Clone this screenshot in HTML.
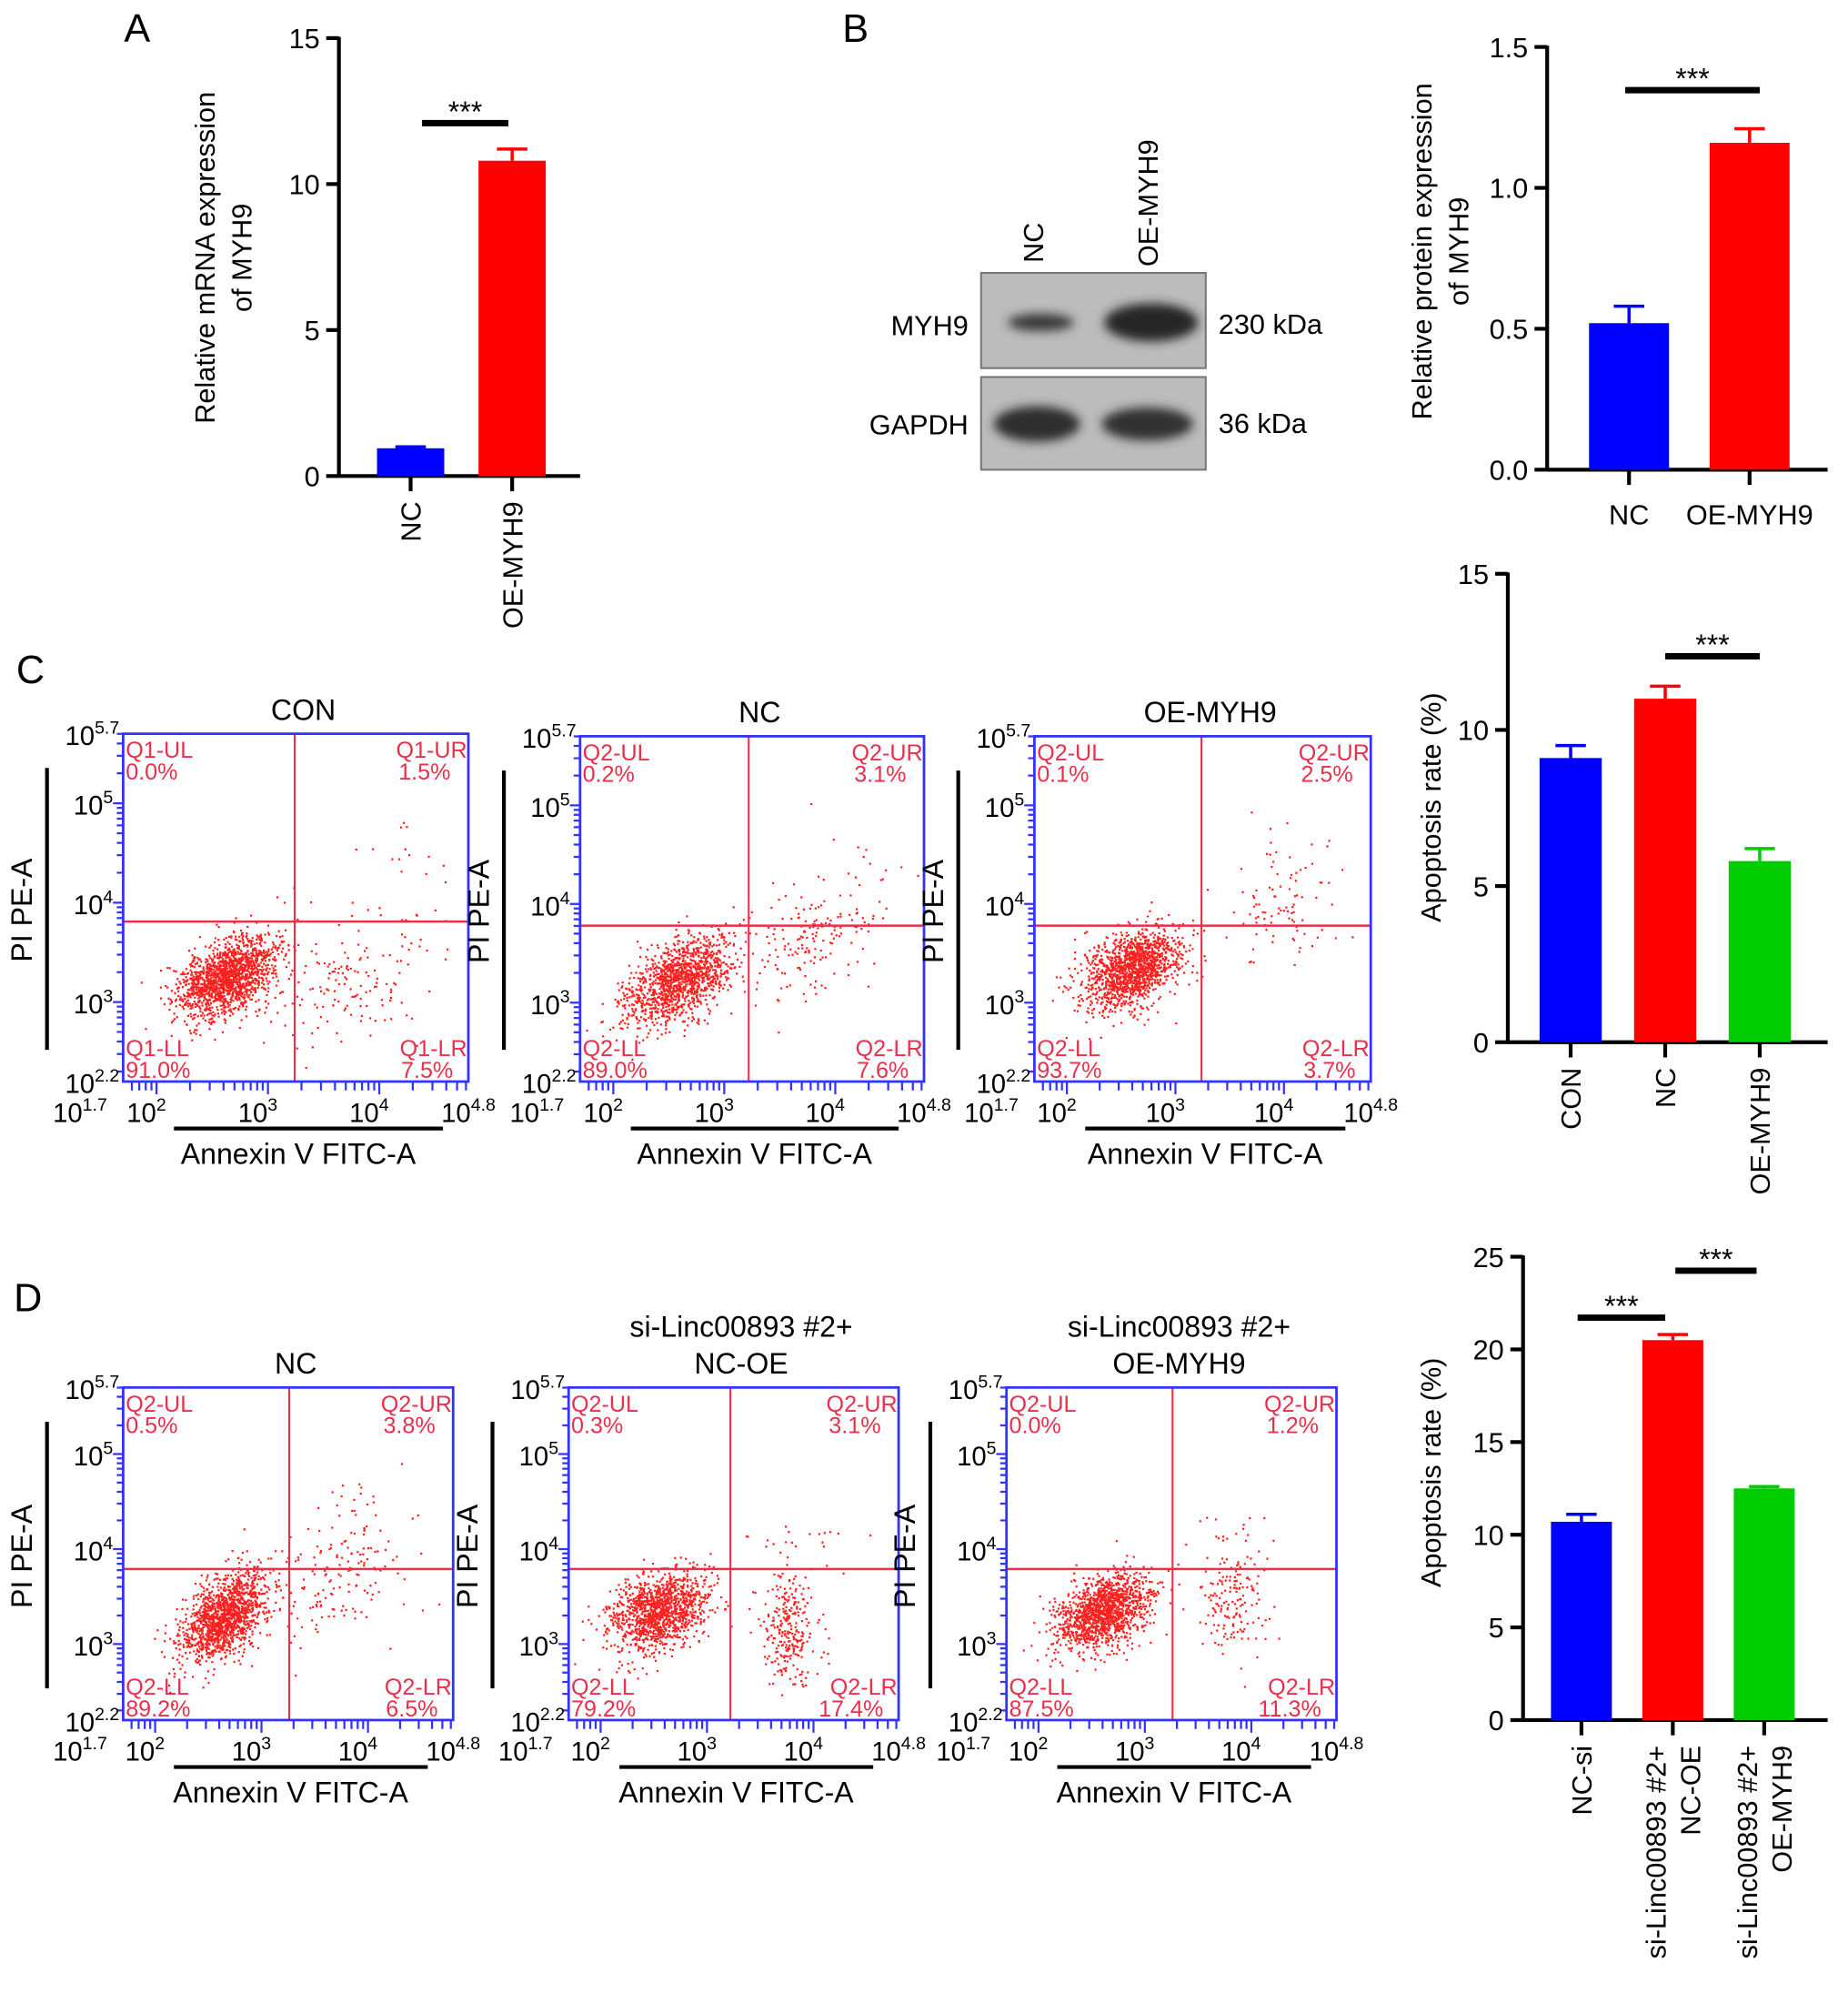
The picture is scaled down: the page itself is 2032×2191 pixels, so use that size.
<!DOCTYPE html>
<html><head><meta charset="utf-8"><style>
html,body{margin:0;padding:0;background:#fff;}
svg{display:block;font-family:"Liberation Sans",Arial,sans-serif;}
</style></head><body>
<svg id="fig" width="2032" height="2191" viewBox="0 0 1456 1570" xmlns="http://www.w3.org/2000/svg">
<defs>
<filter id="blur" x="-20%" y="-50%" width="140%" height="200%"><feGaussianBlur stdDeviation="4"/></filter>
</defs>
<g id="root"></g>
</svg>
<script>
// ---------------- DATA ----------------
const aCats = ["NC", "OE-MYH9"];
const aVals = [0.95, 10.8];
const aErrs = [0.05, 0.4];
const aTicks = [0, 5, 10, 15];

const bCats = ["NC", "OE-MYH9"];
const bVals = [0.52, 1.16];
const bErrs = [0.06, 0.05];
const bTicks = [0.0, 0.5, 1.0, 1.5];

const cCats = ["CON", "NC", "OE-MYH9"];
const cVals = [9.1, 11.0, 5.8];
const cErrs = [0.4, 0.4, 0.4];
const cTicks = [0, 5, 10, 15];

const dCats = [["NC-si"], ["si-Linc00893 #2+", "NC-OE"], ["si-Linc00893 #2+", "OE-MYH9"]];
const dVals = [10.7, 20.5, 12.5];
const dErrs = [0.4, 0.3, 0.1];
const dTicks = [0, 5, 10, 15, 20, 25];

const barColors = ["#0000ff", "#ff0000", "#00cc00"];

const flowTitlesC = [["CON"], ["NC"], ["OE-MYH9"]];
const flowQuadC = [["Q1-UL","0.0%","Q1-UR","1.5%","Q1-LL","91.0%","Q1-LR","7.5%"],
                   ["Q2-UL","0.2%","Q2-UR","3.1%","Q2-LL","89.0%","Q2-LR","7.6%"],
                   ["Q2-UL","0.1%","Q2-UR","2.5%","Q2-LL","93.7%","Q2-LR","3.7%"]];
const flowTitlesD = [["NC"], ["si-Linc00893 #2+", "NC-OE"], ["si-Linc00893 #2+", "OE-MYH9"]];
const flowQuadD = [["Q2-UL","0.5%","Q2-UR","3.8%","Q2-LL","89.2%","Q2-LR","6.5%"],
                   ["Q2-UL","0.3%","Q2-UR","3.1%","Q2-LL","79.2%","Q2-LR","17.4%"],
                   ["Q2-UL","0.0%","Q2-UR","1.2%","Q2-LL","87.5%","Q2-LR","11.3%"]];
const gatesC = [[3.24, 3.81], [3.22, 3.78], [3.24, 3.78]];
const gatesD = [[3.26, 3.79], [3.22, 3.79], [3.26, 3.79]];
// clusters: [centerX, centerY, sdX, sdY, count, correlation]
const clustersC = [
  [[2.62, 3.26, 0.22, 0.2, 1600, 0.45], [3.65, 3.2, 0.33, 0.33, 150, 0.2], [4.2, 4.3, 0.3, 0.4, 25, 0]],
  [[2.6, 3.25, 0.23, 0.22, 1300, 0.5], [3.8, 3.6, 0.25, 0.3, 150, 0.3], [4.1, 4.3, 0.3, 0.3, 25, 0]],
  [[2.6, 3.35, 0.23, 0.2, 1400, 0.4], [3.95, 3.95, 0.25, 0.3, 80, 0.2], [4.0, 4.5, 0.3, 0.3, 15, 0]]
];
const clustersD = [
  [[2.65, 3.3, 0.2, 0.24, 1400, 0.5], [3.7, 3.75, 0.33, 0.33, 150, 0.3], [4.1, 4.4, 0.3, 0.3, 20, 0]],
  [[2.55, 3.35, 0.23, 0.2, 1300, 0.3], [3.75, 3.2, 0.13, 0.28, 260, 0], [3.9, 4.0, 0.3, 0.3, 25, 0]],
  [[2.6, 3.35, 0.22, 0.2, 1400, 0.4], [3.8, 3.45, 0.16, 0.28, 160, 0], [3.9, 4.2, 0.2, 0.15, 15, 0]]
];

// ---------------- HELPERS ----------------
const NS = "http://www.w3.org/2000/svg";
const root = document.getElementById("root");
function el(tag, attrs, parent, text) {
  const e = document.createElementNS(NS, tag);
  for (const k in attrs) e.setAttribute(k, attrs[k]);
  if (text !== undefined) e.textContent = text;
  (parent || root).appendChild(e);
  return e;
}
function grp(name, parent) {
  const g = el("g", {}, parent);
  
  
  return g;
}
function txt(parent, name, x, y, s, size, opts) {
  opts = opts || {};
  const t = el("text", {x: x, y: y, "font-size": size, fill: opts.fill || "#000",
    "text-anchor": opts.anchor || "middle"}, parent, s);
  if (opts.rot) t.setAttribute("transform", "rotate(" + opts.rot + " " + x + " " + y + ")");
  
  
  return t;
}
function line(parent, x1, y1, x2, y2, stroke, w) {
  return el("line", {x1: x1, y1: y1, x2: x2, y2: y2, stroke: stroke, "stroke-width": w}, parent);
}

function barChart(o) {
  const g = grp(o.name);
  const yS = v => o.y0 - (v - o.min) / (o.max - o.min) * (o.y0 - o.y1);
  const ax = grp("y-axis", g);
  line(ax, o.ax, o.y1 - 1, o.ax, o.y0 + 1, "#000", 3);
  o.ticks.forEach(t => {
    line(ax, o.ax - 10, yS(t), o.ax, yS(t), "#000", 3);
    txt(ax, "y-tick-label", o.ax - 15, yS(t) + 8, o.fmt(t), 22, {anchor: "end"});
  });
  const xa = grp("x-axis", g);
  line(xa, o.ax - 1, o.y0, o.axEnd, o.y0, "#000", 3);
  o.vals.forEach((v, i) => {
    const cx = o.x0 + o.step * i + o.bw / 2;
    const b = el("rect", {x: cx - o.bw / 2, y: yS(v), width: o.bw, height: o.y0 - yS(v), fill: barColors[i]}, g);
    
    
    const eb = grp("error-bar-" + i, g);
    line(eb, cx, yS(v), cx, yS(v + o.errs[i]), barColors[i], 2.5);
    line(eb, cx - 12, yS(v + o.errs[i]), cx + 12, yS(v + o.errs[i]), barColors[i], 2.5);
    line(xa, cx, o.y0, cx, o.y0 + 12, "#000", 3);
    const lab = o.cats[i];
    const lines = Array.isArray(lab) ? lab : [lab];
    if (o.rot) {
      lines.forEach((s, j) => {
        const lx = cx + 8 + (j - (lines.length - 1) / 2) * 27;
        txt(xa, "x-tick-label", lx, o.y0 + 20, s, 22, {anchor: "end", rot: -90});
      });
    } else {
      txt(xa, "x-tick-label", cx, o.y0 + 43, lines[0], 22);
    }
  });
  o.sig.forEach(s => {
    const sg = grp("significance-bar", g);
    const xa1 = o.x0 + o.step * s[0] + o.bw / 2 + s[2], xa2 = o.x0 + o.step * s[1] + o.bw / 2 + s[3];
    line(sg, xa1, s[4], xa2, s[4], "#000", 5);
    txt(sg, "significance-stars", (xa1 + xa2) / 2, s[4] - 1, "***", 23);
  });
  o.ylab.forEach((s, j) => {
    txt(g, "y-axis-title", o.ylx + j * 29, o.yly, s, 22, {rot: -90});
  });
  return g;
}

barChart({name: "panel-a-chart", ax: 267, axEnd: 457, y0: 375, y1: 30, min: 0, max: 15,
  ticks: aTicks, fmt: t => String(t), vals: aVals, errs: aErrs, cats: aCats,
  x0: 297, bw: 53, step: 80, rot: true, sig: [[0, 1, 9, -3, 97]],
  ylab: ["Relative mRNA expression", "of MYH9"], ylx: 169, yly: 203});

barChart({name: "panel-b-chart", ax: 1219, axEnd: 1440, y0: 370, y1: 37, min: 0, max: 1.5,
  ticks: bTicks, fmt: t => t.toFixed(1), vals: bVals, errs: bErrs, cats: bCats,
  x0: 1252, bw: 63, step: 95, rot: false, sig: [[0, 1, -3, 8, 71]],
  ylab: ["Relative protein expression", "of MYH9"], ylx: 1128, yly: 198});

barChart({name: "panel-c-chart", ax: 1188, axEnd: 1440, y0: 821, y1: 452, min: 0, max: 15,
  ticks: cTicks, fmt: t => String(t), vals: cVals, errs: cErrs, cats: cCats,
  x0: 1213, bw: 49, step: 74.5, rot: true, sig: [[1, 2, 0, 0, 517]],
  ylab: ["Apoptosis rate (%)"], ylx: 1135, yly: 636});

barChart({name: "panel-d-chart", ax: 1200, axEnd: 1440, y0: 1355, y1: 990, min: 0, max: 25,
  ticks: dTicks, fmt: t => String(t), vals: dVals, errs: dErrs, cats: dCats,
  x0: 1222, bw: 48, step: 72, rot: true, sig: [[0, 1, -3, -6, 1038], [1, 2, 2, -6, 1001]],
  ylab: ["Apoptosis rate (%)"], ylx: 1135, yly: 1160});

[["A", 108, 33], ["B", 674, 33], ["C", 24, 538], ["D", 22, 1033]].forEach(p => {
  txt(root, "panel-label-" + p[0].toLowerCase(), p[1], p[2], p[0], 31);
});

// ---------------- WESTERN BLOT ----------------
(function () {
  const g = grp("western-blot");
  txt(g, "lane-label-nc", 822, 207, "NC", 22, {anchor: "start", rot: -90});
  txt(g, "lane-label-oe-myh9", 912, 210, "OE-MYH9", 22, {anchor: "start", rot: -90});
  [[215, 290, "MYH9", "230 kDa", 256], [297, 370, "GAPDH", "36 kDa", 334]].forEach(r => {
    const m = el("rect", {x: 773, y: r[0], width: 177, height: r[1] - r[0], fill: "#bcbcbc", stroke: "#777", "stroke-width": 1.5}, g);
    
    
    txt(g, "protein-label", 763, r[4] + 8, r[2], 22, {anchor: "end"});
    txt(g, "size-label", 960, r[4] + 7, r[3], 22, {anchor: "start"});
  });
  const bands = [[820, 254, 26, 7, "#3a3a3a"], [907, 254, 37, 15, "#262626"], [817, 334, 34, 14, "#2e2e2e"], [904, 334, 36, 13, "#303030"]];
  bands.forEach(b => {
    const e = el("ellipse", {cx: b[0], cy: b[1], rx: b[2], ry: b[3], fill: b[4], filter: "url(#blur)"}, g);
    
    
  });
})();

// ---------------- FLOW PLOTS ----------------
function mulberry(a) { return function () { a |= 0; a = a + 0x6D2B79F5 | 0; let t = Math.imul(a ^ a >>> 15, 1 | a); t = t + Math.imul(t ^ t >>> 7, 61 | t) ^ t; return ((t ^ t >>> 14) >>> 0) / 4294967296; }; }
function gauss(r) { let u = 0, v = 0; while (u === 0) u = r(); v = r(); return Math.sqrt(-2 * Math.log(u)) * Math.cos(2 * Math.PI * v); }

function supLabel(parent, x, y, base, sup, anchor) {
  const t = el("text", {x: x, y: y, "font-size": 21, "text-anchor": anchor, fill: "#000"}, parent);
  
  
  el("tspan", {}, t, base);
  el("tspan", {dy: -9, "font-size": 14}, t, sup);
  return t;
}

function flowPlot(name, bx0, by0, bx1, by1, titles, quads, gate, clusters, seed) {
  const g = grp(name);
  const xS = v => bx0 + (v - 1.7) / 3.1 * (bx1 - bx0);
  const yS = v => by1 - (v - 2.2) / 3.5 * (by1 - by0);
  const cx = (bx0 + bx1) / 2;
  titles.forEach((s, j) => txt(g, "plot-title", cx + 6, by0 - 11 - (titles.length - 1 - j) * 29, s, 23));
  const r = mulberry(seed);
  const pts = grp("scatter-points", g);
  let d = "";
  clusters.forEach(c => {
    for (let i = 0; i < c[4]; i++) {
      const z1 = gauss(r), z2 = gauss(r);
      const lx = c[0] + c[2] * z1;
      const ly = c[1] + c[3] * (c[5] * z1 + Math.sqrt(1 - c[5] * c[5]) * z2);
      if (lx < 1.75 || lx > 4.78 || ly < 2.25 || ly > 5.65) continue;
      d += "M" + xS(lx).toFixed(1) + " " + yS(ly).toFixed(1) + "h1.6v1.6h-1.6z";
    }
  });
  el("path", {d: d, fill: "#ff2020"}, pts);
  const gl = grp("quadrant-gates", g);
  line(gl, xS(gate[0]), by0, xS(gate[0]), by1, "#e8304a", 1.5);
  line(gl, bx0, yS(gate[1]), bx1, yS(gate[1]), "#e8304a", 1.8);
  const bx = el("rect", {x: bx0, y: by0, width: bx1 - bx0, height: by1 - by0, fill: "none", stroke: "#3333ff", "stroke-width": 2}, g);
  
  
  const ql = grp("quadrant-labels", g);
  const qc = "#e8304a", qs = 18;
  txt(ql, "quadrant-name", bx0 + 2, by0 + 19, quads[0], qs, {anchor: "start", fill: qc});
  txt(ql, "quadrant-value", bx0 + 2, by0 + 36, quads[1], qs, {anchor: "start", fill: qc});
  txt(ql, "quadrant-name", bx1 - 1, by0 + 19, quads[2], qs, {anchor: "end", fill: qc});
  txt(ql, "quadrant-value", bx1 - 14, by0 + 36, quads[3], qs, {anchor: "end", fill: qc});
  txt(ql, "quadrant-name", bx0 + 2, by1 - 20, quads[4], qs, {anchor: "start", fill: qc});
  txt(ql, "quadrant-value", bx0 + 2, by1 - 3, quads[5], qs, {anchor: "start", fill: qc});
  txt(ql, "quadrant-name", bx1 - 1, by1 - 20, quads[6], qs, {anchor: "end", fill: qc});
  txt(ql, "quadrant-value", bx1 - 12, by1 - 3, quads[7], qs, {anchor: "end", fill: qc});
  const tk = grp("axis-ticks", g);
  let td = "";
  for (let dec = 2; dec <= 5; dec++) for (let m = 1; m <= 9; m++) {
    const lv = dec + Math.log10(m);
    if (lv >= 2.2 && lv <= 5.7) td += "M" + (bx0 - (m === 1 ? 8 : 5)) + " " + yS(lv).toFixed(1) + "H" + bx0;
  }
  for (let dec = 1; dec <= 4; dec++) for (let m = 1; m <= 9; m++) {
    const lv = dec + Math.log10(m);
    if (lv >= 1.7 && lv <= 4.8) td += "M" + xS(lv).toFixed(1) + " " + by1 + "V" + (by1 + (m === 1 ? 10 : 7));
  }
  el("path", {d: td, stroke: "#3333ff", "stroke-width": 1.6, fill: "none"}, tk);
  const tl = grp("tick-labels", g);
  [[5.7, "5.7"], [5, "5"], [4, "4"], [3, "3"], [2.2, "2.2"]].forEach(t => {
    supLabel(tl, bx0 - (t[1].length > 1 ? 3 : 8), yS(t[0]) + 9, "10", t[1], "end");
  });
  [[1.7, "1.7", -24], [2, "2", 2], [3, "3", 2], [4, "4", 2], [4.8, "4.8", 10]].forEach(t => {
    supLabel(tl, xS(t[0]) + t[2] - 10, by1 + 32, "10", t[1], "middle");
  });
  const ya = grp("y-axis-title-group", g);
  line(ya, bx0 - 60, by0 + 27, bx0 - 60, by1 - 25, "#000", 3);
  txt(ya, "y-axis-title", bx0 - 72, (by0 + by1) / 2 + 2, "PI PE-A", 23, {rot: -90});
  line(g, bx0 + 40, by1 + 37, bx1 - 20, by1 + 37, "#000", 3);
  txt(g, "x-axis-title", (bx0 + bx1) / 2 + 2, by1 + 65, "Annexin V FITC-A", 23);
}

const cBoxes = [[97, 578, 369, 852], [457, 580, 728, 852], [815, 580, 1080, 852]];
cBoxes.forEach((b, i) => flowPlot("panel-c-flow-" + i, b[0], b[1], b[2], b[3], flowTitlesC[i], flowQuadC[i], gatesC[i], clustersC[i], 11 + i));
const dBoxes = [[97, 1093, 357, 1355], [448, 1093, 708, 1355], [793, 1093, 1053, 1355]];
dBoxes.forEach((b, i) => flowPlot("panel-d-flow-" + i, b[0], b[1], b[2], b[3], flowTitlesD[i], flowQuadD[i], gatesD[i], clustersD[i], 31 + i));
</script>
</body></html>
